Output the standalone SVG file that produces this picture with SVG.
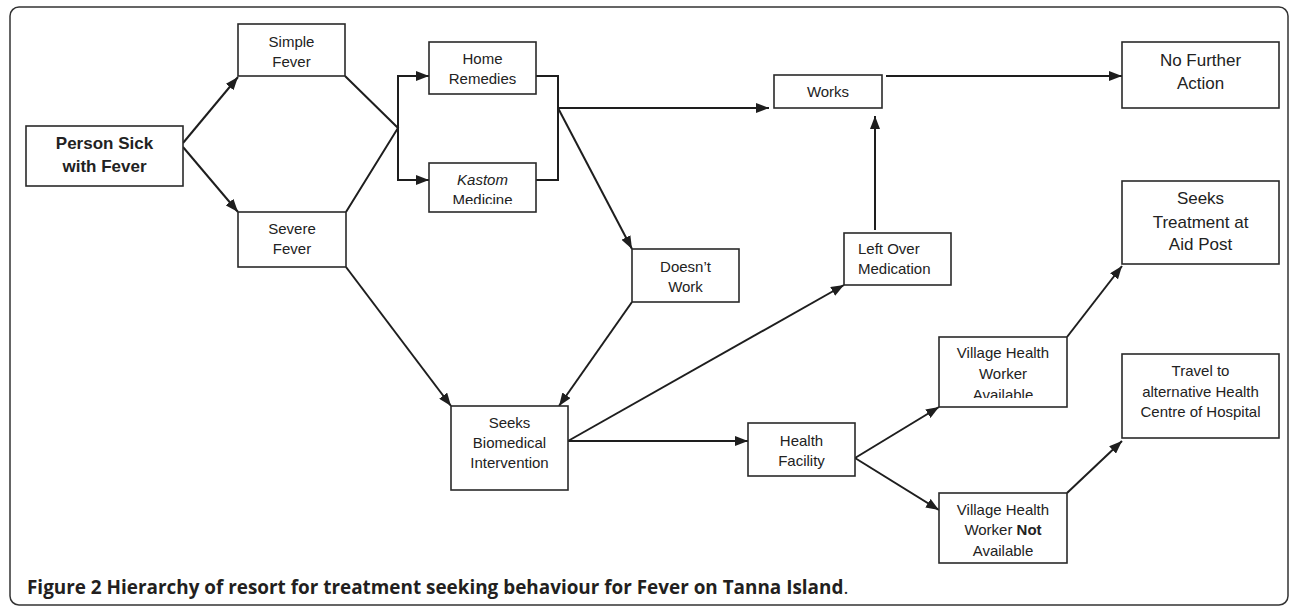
<svg xmlns="http://www.w3.org/2000/svg" width="1290" height="606" viewBox="0 0 1290 606">
<style>
.box{fill:#fff;stroke:#2a2a2a;stroke-width:1.6}
.t{font-family:"Liberation Sans",Arial,sans-serif;font-size:15px;fill:#222;text-anchor:middle}
.tl{font-family:"Liberation Sans",Arial,sans-serif;font-size:15px;fill:#222;text-anchor:start}
.tb{font-family:"Liberation Sans",Arial,sans-serif;font-size:17px;fill:#222;text-anchor:middle}
.ln{fill:none;stroke:#1e1e1e;stroke-width:2}
.cap{font-family:"Open Sans","Noto Sans",sans-serif;font-size:18.9px;font-weight:700;fill:#231f20}
</style>
<defs>
<marker id="ah" markerUnits="userSpaceOnUse" markerWidth="14" markerHeight="10" refX="13" refY="5" orient="auto">
<path d="M0,0 L13,5 L0,10 z" fill="#1e1e1e"/>
</marker>
<clipPath id="ckastom"><rect x="429" y="163" width="107" height="41"/></clipPath>
<clipPath id="cvhw"><rect x="939" y="337" width="128" height="61"/></clipPath>
</defs>
<rect x="10" y="7" width="1278" height="598" rx="9" fill="#fff" stroke="#333" stroke-width="1.5"/>

<g id="connectors">
<line class="ln" x1="183" y1="143" x2="238" y2="77" marker-end="url(#ah)"/>
<line class="ln" x1="183" y1="147" x2="238" y2="212" marker-end="url(#ah)"/>
<polyline class="ln" points="345,76 398,128 346,212"/>
<line class="ln" x1="398" y1="75" x2="398" y2="181"/>
<line class="ln" x1="397" y1="76" x2="429" y2="76" marker-end="url(#ah)"/>
<line class="ln" x1="397" y1="180" x2="429" y2="180" marker-end="url(#ah)"/>
<polyline class="ln" points="536,76 558,76 558,180 536,180"/>
<line class="ln" x1="558" y1="108" x2="769" y2="108" marker-end="url(#ah)"/>
<line class="ln" x1="558" y1="108" x2="632" y2="249" marker-end="url(#ah)"/>
<line class="ln" x1="886" y1="76" x2="1122" y2="76" marker-end="url(#ah)"/>
<line class="ln" x1="875" y1="230" x2="875" y2="116" marker-end="url(#ah)"/>
<line class="ln" x1="346" y1="267" x2="451" y2="406" marker-end="url(#ah)"/>
<line class="ln" x1="632" y1="302" x2="559" y2="406" marker-end="url(#ah)"/>
<line class="ln" x1="568" y1="441" x2="844" y2="285" marker-end="url(#ah)"/>
<line class="ln" x1="568" y1="441" x2="748" y2="441" marker-end="url(#ah)"/>
<line class="ln" x1="855" y1="458" x2="939" y2="407" marker-end="url(#ah)"/>
<line class="ln" x1="855" y1="458" x2="939" y2="510" marker-end="url(#ah)"/>
<line class="ln" x1="1067" y1="337" x2="1122" y2="266" marker-end="url(#ah)"/>
<line class="ln" x1="1067" y1="493" x2="1122" y2="441" marker-end="url(#ah)"/>
</g>

<g id="person">
<rect class="box" x="26" y="126" width="157" height="60"/>
<text class="tb" font-weight="bold" x="104.5" y="149">Person Sick</text>
<text class="tb" font-weight="bold" x="104.5" y="172">with Fever</text>
</g>
<g id="simple">
<rect class="box" x="238" y="24" width="107" height="52"/>
<text class="t" x="291.5" y="47">Simple</text>
<text class="t" x="291.5" y="67">Fever</text>
</g>
<g id="severe">
<rect class="box" x="238" y="212" width="108" height="55"/>
<text class="t" x="292" y="234">Severe</text>
<text class="t" x="292" y="254">Fever</text>
</g>
<g id="home">
<rect class="box" x="429" y="42" width="107" height="52"/>
<text class="t" x="482.5" y="64">Home</text>
<text class="t" x="482.5" y="84">Remedies</text>
</g>
<g id="kastom">
<rect class="box" x="429" y="163" width="107" height="49"/>
<g clip-path="url(#ckastom)">
<text class="t" x="482.5" y="185" font-style="italic">Kastom</text>
<text class="t" x="482.5" y="205">Medicine</text>
</g>
</g>
<g id="works">
<rect class="box" x="774" y="75" width="108" height="33"/>
<text class="t" x="828" y="97">Works</text>
</g>
<g id="nofurther">
<rect class="box" x="1122" y="42" width="157" height="66"/>
<text class="tb" x="1200.5" y="66">No Further</text>
<text class="tb" x="1200.5" y="89">Action</text>
</g>
<g id="doesnt">
<rect class="box" x="632" y="249" width="107" height="53"/>
<text class="t" x="685.5" y="272">Doesn’t</text>
<text class="t" x="685.5" y="292">Work</text>
</g>
<g id="leftover">
<rect class="box" x="844" y="233" width="107" height="52"/>
<text class="tl" x="858" y="254">Left Over</text>
<text class="tl" x="858" y="274">Medication</text>
</g>
<g id="aidpost">
<rect class="box" x="1122" y="181" width="157" height="83"/>
<text class="tb" x="1200.5" y="204">Seeks</text>
<text class="tb" x="1200.5" y="228">Treatment at</text>
<text class="tb" x="1200.5" y="250">Aid Post</text>
</g>
<g id="biomedical">
<rect class="box" x="451" y="406" width="117" height="84"/>
<text class="t" x="509.5" y="428">Seeks</text>
<text class="t" x="509.5" y="448">Biomedical</text>
<text class="t" x="509.5" y="468">Intervention</text>
</g>
<g id="facility">
<rect class="box" x="748" y="423" width="107" height="53"/>
<text class="t" x="801.5" y="446">Health</text>
<text class="t" x="801.5" y="466">Facility</text>
</g>
<g id="vhwavail">
<rect class="box" x="939" y="337" width="128" height="70"/>
<g clip-path="url(#cvhw)">
<text class="t" x="1003" y="358">Village Health</text>
<text class="t" x="1003" y="379">Worker</text>
<text class="t" x="1003" y="400">Available</text>
</g>
</g>
<g id="vhwnot">
<rect class="box" x="939" y="493" width="128" height="70"/>
<text class="t" x="1003" y="515">Village Health</text>
<text class="t" x="1003" y="535">Worker <tspan font-weight="bold">Not</tspan></text>
<text class="t" x="1003" y="556">Available</text>
</g>
<g id="travel">
<rect class="box" x="1122" y="354" width="157" height="84"/>
<text class="t" x="1200.5" y="376">Travel to</text>
<text class="t" x="1200.5" y="397">alternative Health</text>
<text class="t" x="1200.5" y="417">Centre of Hospital</text>
</g>

<text class="cap" x="27" y="594">Figure 2 Hierarchy of resort for treatment seeking behaviour for Fever on Tanna Island<tspan font-weight="400">.</tspan></text>
</svg>
